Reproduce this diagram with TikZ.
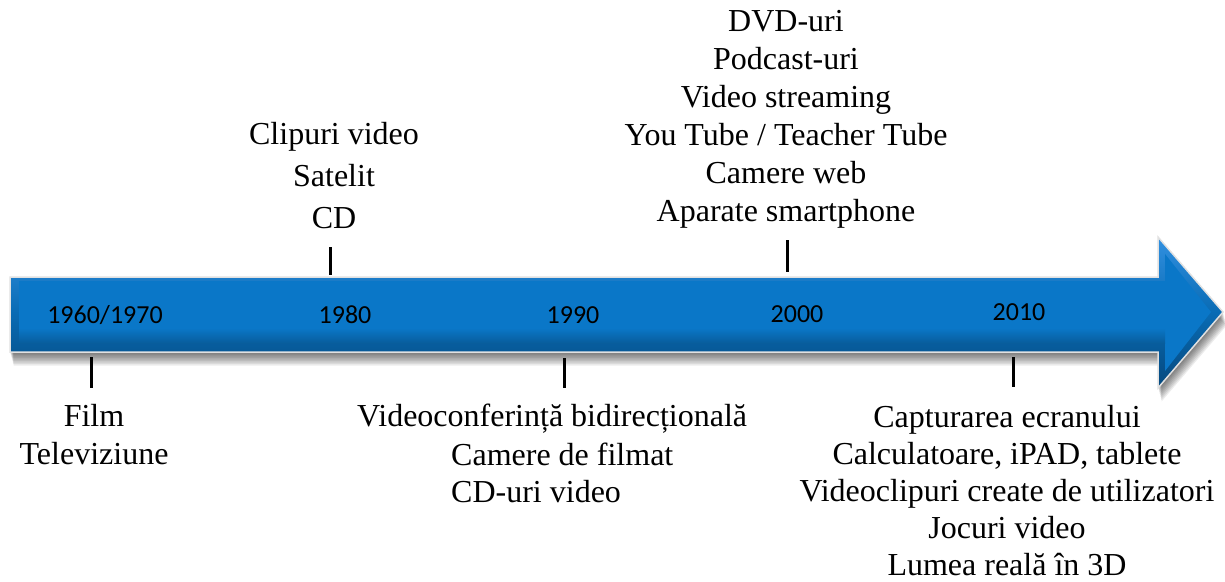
\documentclass[tikz,border=0pt]{standalone}
\usepackage{fontspec}
\setmainfont{Liberation Serif}
\newfontfamily\yearfont{Carlito}
\definecolor{arrblue}{RGB}{10,119,200}
\definecolor{arrlight}{RGB}{50,145,225}
\definecolor{arrdark}{RGB}{5,72,125}
\definecolor{rimgray}{RGB}{225,225,225}
\tikzset{
  outershape/.style={insert path={(10,277) -- (1158,277) -- (1158,237) -- (1223,312) -- (1158,388) -- (1158,352) -- (10,352) -- cycle}},
  innershape/.style={insert path={(19,281) -- (1165,281) -- (1165,254) -- (1211,312) -- (1165,371) -- (1165,343) -- (19,343) -- cycle}},
  lbl/.style={font=\fontsize{32}{37}\selectfont, align=center, inner sep=0pt},
  yr/.style={font=\yearfont\fontsize{26}{30}\selectfont, inner sep=0pt, anchor=base},
  tickline/.style={line width=3pt, black}
}
\begin{document}
\begin{tikzpicture}[x=1pt,y=-1pt]
\useasboundingbox (0,0) rectangle (1225,581);
% soft shadow
\foreach \i in {1,...,9}
  \fill[black, opacity=0.075, shift={(\i*0.4,\i*1.5)}, outershape];
% arrow with bevel
\shade[top color=arrlight, bottom color=arrdark, middle color=arrblue!90!black, outershape];
\fill[arrblue, innershape];
\shade[top color=arrblue, bottom color=arrblue!78!black] (19,328) rectangle (1165,343);
\draw[rimgray, line width=1.5pt, outershape];
% ticks
\coordinate (t80a) at (330,247); \coordinate (t80b) at (330,275);
\coordinate (t00a) at (787,240); \coordinate (t00b) at (787,272);
\coordinate (t60a) at (91,357);  \coordinate (t60b) at (91,388);
\coordinate (t90a) at (564,358); \coordinate (t90b) at (564,388);
\coordinate (t10a) at (1013,357); \coordinate (t10b) at (1013,387);
\draw[tickline] (t80a) -- (t80b);
\draw[tickline] (t00a) -- (t00b);
\draw[tickline] (t60a) -- (t60b);
\draw[tickline] (t90a) -- (t90b);
\draw[tickline] (t10a) -- (t10b);
% years
\node[yr] (y60) at (105,323) {1960/1970};
\node[yr] (y80) at (345,323) {1980};
\node[yr] (y90) at (573,323) {1990};
\node[yr] (y00) at (797,322) {2000};
\node[yr] (y10) at (1019,320) {2010};
% labels
\node[lbl, anchor=north, font=\fontsize{32}{42}\selectfont] (l80) at (334,122) {Clipuri video\\Satelit\\CD};
\node[lbl, anchor=north, font=\fontsize{32}{38}\selectfont] (l00) at (786,10) {DVD-uri\\Podcast-uri\\Video streaming\\You Tube / Teacher Tube\\Camere web\\Aparate smartphone};
\node[lbl, anchor=north, font=\fontsize{32}{38}\selectfont] (l60) at (94,404) {Film\\Televiziune};
\node[lbl, anchor=north west] (l90a) at (357,404) {Videoconferință bidirecțională};
\node[lbl, anchor=north west, align=left] (l90b) at (451,443) {Camere de filmat\\CD-uri video};
\node[lbl, anchor=north] (l10) at (1007,405) {Capturarea ecranului\\Calculatoare, iPAD, tablete\\Videoclipuri create de utilizatori\\Jocuri video\\Lumea reală în 3D};
\end{tikzpicture}
\end{document}
